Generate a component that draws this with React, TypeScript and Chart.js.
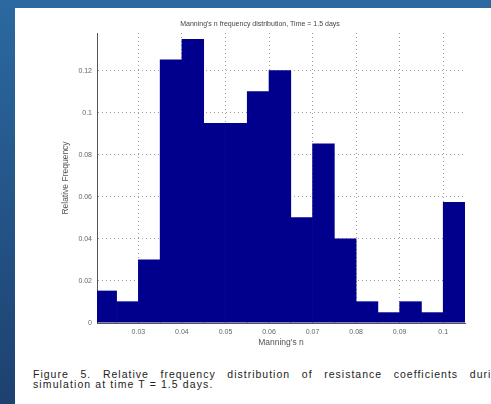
import React, { useEffect, useRef } from "react";
import { Chart, registerables } from "chart.js";

Chart.register(...registerables);

// Histogram bins (bin centres, width 0.005) and relative frequencies
const binCenters = [
  0.0225, 0.0275, 0.0325, 0.0375, 0.0425, 0.0475, 0.0525, 0.0575, 0.0625,
  0.0675, 0.0725, 0.0775, 0.0825, 0.0875, 0.0925, 0.0975, 0.1025,
];
const relFrequency = [
  0.0154, 0.0103, 0.0302, 0.1254, 0.1352, 0.0952, 0.0952, 0.1103, 0.1203,
  0.0503, 0.0854, 0.0402, 0.0103, 0.0051, 0.0103, 0.0051, 0.0576,
];
const xTicks = [0.03, 0.04, 0.05, 0.06, 0.07, 0.08, 0.09, 0.1];
const yTicks = [0, 0.02, 0.04, 0.06, 0.08, 0.1, 0.12];

const chartTitle = "Manning's n frequency distribution, Time = 1.5 days";
const xTitle = "Manning's n";
const yTitle = "Relative Frequency";
const captionLine1 =
  "Figure 5. Relative frequency distribution of resistance coefficients during";
const captionLine2 = "simulation at time T = 1.5 days.";

const FONT = "'Liberation Sans', Arial, sans-serif";

export default function App() {
  const canvasRef = useRef<HTMLCanvasElement | null>(null);

  useEffect(() => {
    if (!canvasRef.current) return;
    const chart = new Chart(canvasRef.current, {
      type: "bar",
      data: {
        datasets: [
          {
            data: binCenters.map((x, i) => ({ x, y: relFrequency[i] })),
            backgroundColor: "#00008c",
            borderWidth: 0,
            barPercentage: 1.03,
            categoryPercentage: 1,
          },
        ],
      },
      options: {
        animation: false,
        responsive: false,
        devicePixelRatio: 1,
        layout: { padding: { left: 40, right: 26, top: 0, bottom: 8 } },
        plugins: {
          legend: { display: false },
          tooltip: { enabled: false },
          title: {
            display: true,
            text: chartTitle,
            color: "#444",
            font: { family: FONT, size: 7, weight: "normal" },
            padding: { top: 12, bottom: 4.6 },
          },
        },
        scales: {
          x: {
            type: "linear",
            min: 0.0205,
            max: 0.105,
            offset: false,
            afterBuildTicks: (s: any) => {
              s.ticks = xTicks.map((v) => ({ value: v }));
            },
            afterFit: (s: any) => {
              s.height = 27;
            },
            ticks: {
              callback: (v: any) => String(v),
              color: "#666",
              font: { family: FONT, size: 7 },
              padding: 5,
              maxRotation: 0,
              autoSkip: false,
            },
            grid: {
              display: true,
              color: "rgba(60,60,60,0.5)",
              drawTicks: false,
              offset: false,
            },
            border: { display: true, color: "#555", width: 1, dash: [1, 3] },
            title: {
              display: true,
              text: xTitle,
              color: "#555",
              font: { family: FONT, size: 8.5 },
              padding: { top: 2, bottom: 2 },
            },
          },
          y: {
            type: "linear",
            min: 0,
            max: 0.138,
            afterBuildTicks: (s: any) => {
              s.ticks = yTicks.map((v) => ({ value: v }));
            },
            afterFit: (s: any) => {
              s.width = 42;
            },
            ticks: {
              callback: (v: any) => String(v),
              color: "#666",
              font: { family: FONT, size: 7 },
              padding: 5,
              autoSkip: false,
            },
            grid: {
              display: true,
              color: "rgba(60,60,60,0.5)",
              drawTicks: false,
            },
            border: { display: true, color: "#555", width: 1, dash: [1, 3] },
            title: {
              display: true,
              text: yTitle,
              color: "#555",
              font: { family: FONT, size: 8.5 },
              padding: { top: 6, bottom: 0 },
            },
          },
        },
      },
    });
    return () => chart.destroy();
  }, []);

  const captionStyle: React.CSSProperties = {
    position: "absolute",
    left: 18,
    fontFamily: FONT,
    fontSize: 10.5,
    lineHeight: "10px",
    color: "#222",
    whiteSpace: "nowrap",
  };

  return (
    <div
      style={{
        position: "fixed",
        left: 0,
        top: 0,
        width: 491,
        height: 404,
        overflow: "hidden",
        background: "linear-gradient(to bottom, #2b69a0 0%, #1d4170 100%)",
      }}
    >
      <div
        style={{
          position: "absolute",
          left: 15,
          top: 8,
          width: 476,
          height: 396,
          background: "#fff",
          overflow: "hidden",
        }}
      >
        <canvas
          ref={canvasRef}
          width={476}
          height={350}
          style={{ position: "absolute", left: 0, top: 0, width: 476, height: 350 }}
        />
        <div
          style={{
            ...captionStyle,
            top: 361,
            width: 472,
            letterSpacing: 1,
            textAlign: "justify",
            textAlignLast: "justify" as any,
          }}
        >
          {captionLine1}
        </div>
        <div style={{ ...captionStyle, top: 371, letterSpacing: 1.1 }}>
          {captionLine2}
        </div>
      </div>
    </div>
  );
}
